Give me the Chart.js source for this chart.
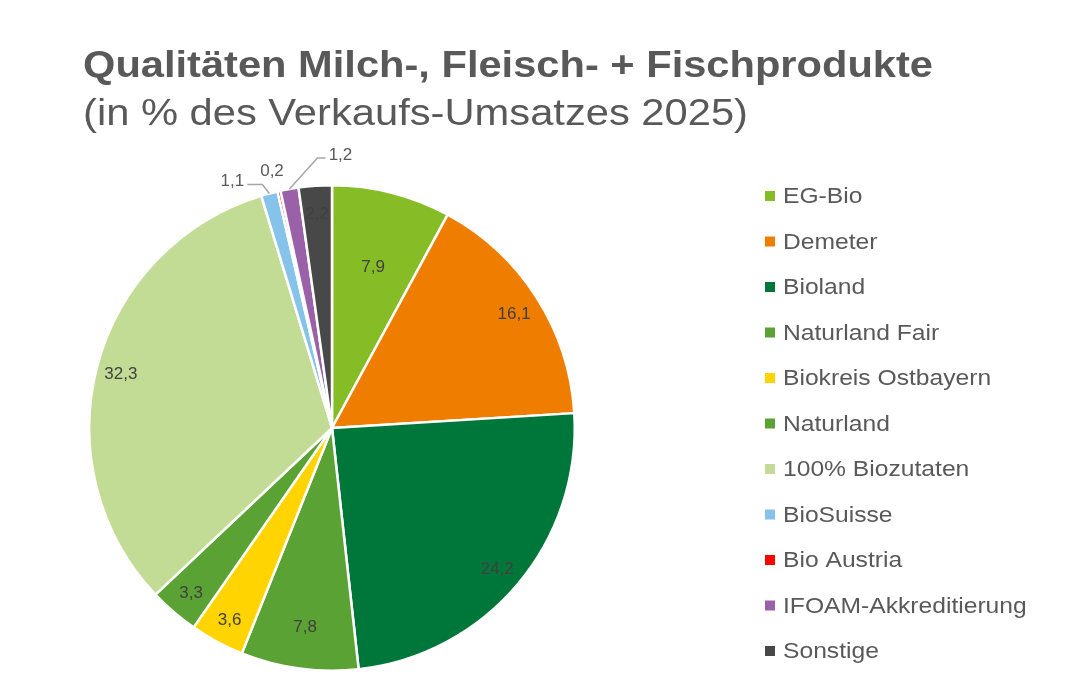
<!DOCTYPE html>
<html>
<head>
<meta charset="utf-8">
<script src="https://cdn.jsdelivr.net/npm/chart.js@4.4.1/dist/chart.umd.min.js"></script>
<style>
html,body{margin:0;padding:0;background:#fff;}
#wrap{width:1092px;height:687px;position:relative;}
</style>
</head>
<body>
<div id="wrap"><canvas id="c"></canvas></div>
<script>
const titleText = "Qualitäten Milch-, Fleisch- + Fischprodukte";
const subtitleText = "(in % des Verkaufs-Umsatzes 2025)";
const categories = ["EG-Bio","Demeter","Bioland","Naturland Fair","Biokreis Ostbayern","Naturland","100% Biozutaten","BioSuisse","Bio Austria","IFOAM-Akkreditierung","Sonstige"];
const shares = [7.9,16.1,24.2,7.8,3.6,3.3,32.3,1.1,0.2,1.2,2.2];
const sliceColors = ["#86BC25","#EE7D00","#00773A","#5AA233","#FFD400","#5AA233","#C3DC95","#86C3EA","#FF0000","#9A60A8","#484848"];

// label placement styling (radial fraction for inside labels; outside labels with offsets)
const insideFactor = {0:0.69, 3:0.82, 6:0.9};
const outsideLabels = {
  7: {dx:-37, dy:-12, elbow:[-7,-9], line:true},
  8: {dx:-7, dy:-20, line:false},
  9: {dx:51, dy:-34, elbow:[28,-31], line:true}
};

const fmt = v => v.toFixed(1).replace('.', ',');

const decorPlugin = {
  id: 'decor',
  afterDraw(chart) {
    const ctx = chart.ctx;
    ctx.save();
    ctx.fillStyle = '#595959';
    ctx.textBaseline = 'alphabetic';
    ctx.textAlign = 'left';
    function fitText(txt, font, x, y, w) {
      ctx.font = font;
      const m = ctx.measureText(txt).width;
      const s = w / m;
      ctx.save();
      ctx.translate(x, y);
      ctx.scale(s, 1);
      ctx.fillText(txt, 0, 0);
      ctx.restore();
    }
    fitText(titleText, 'bold 36px "Liberation Sans", Arial, sans-serif', 83, 77, 850);
    fitText(subtitleText, '36px "Liberation Sans", Arial, sans-serif', 83, 125, 665);

    // Legend
    const ds = chart.data.datasets[0];
    ctx.font = '22px "Liberation Sans", Arial, sans-serif';
    ctx.textBaseline = 'middle';
    chart.data.labels.forEach((lab, i) => {
      const y = 196 + i * 45.5;
      ctx.fillStyle = ds.backgroundColor[i];
      ctx.fillRect(765, y - 5, 10, 10);
      ctx.fillStyle = '#595959';
      ctx.save();
      ctx.translate(783, y + 1);
      ctx.scale(1.12, 1);
      ctx.fillText(lab, 0, 0);
      ctx.restore();
    });

    // Data labels
    const meta = chart.getDatasetMeta(0);
    ctx.font = '17px "Liberation Sans", Arial, sans-serif';
    ctx.textAlign = 'center';
    ctx.textBaseline = 'middle';
    meta.data.forEach((arc, i) => {
      const p = arc.getProps(['x','y','startAngle','endAngle','outerRadius'], true);
      const mid = (p.startAngle + p.endAngle) / 2;
      const txt = fmt(ds.data[i]);
      if (outsideLabels[i]) {
        const o = outsideLabels[i];
        const ex = p.x + p.outerRadius * Math.cos(mid);
        const ey = p.y + p.outerRadius * Math.sin(mid);
        const lx = ex + o.dx, ly = ey + o.dy;
        if (o.line) {
          ctx.strokeStyle = '#A6A6A6';
          ctx.lineWidth = 1.5;
          ctx.beginPath();
          ctx.moveTo(ex, ey);
          const bx = ex + o.elbow[0], by = ey + o.elbow[1];
          ctx.lineTo(bx, by);
          const sign = o.dx < 0 ? -1 : 1;
          ctx.lineTo(lx - sign * 15, by);
          ctx.stroke();
        }
        ctx.fillStyle = '#595959';
        ctx.fillText(txt, lx, ly);
      } else {
        const f = insideFactor[i] !== undefined ? insideFactor[i] : 0.89;
        const r = p.outerRadius * f;
        ctx.fillStyle = '#404040';
        ctx.fillText(txt, p.x + r * Math.cos(mid), p.y + r * Math.sin(mid) + 2);
      }
    });
    ctx.restore();
  }
};

new Chart(document.getElementById('c'), {
  type: 'pie',
  data: {
    labels: categories,
    datasets: [{
      data: shares,
      backgroundColor: sliceColors,
      borderColor: '#ffffff',
      borderWidth: 2.5,
      hoverBorderWidth: 2.5,
      hoverOffset: 0
    }]
  },
  options: {
    responsive: true,
    maintainAspectRatio: false,
    animation: false,
    events: [],
    layout: { padding: { left: 88, right: 516, top: 184, bottom: 15 } },
    plugins: {
      legend: { display: false },
      title: { display: false },
      tooltip: { enabled: false }
    }
  },
  plugins: [decorPlugin]
});
</script>
</body>
</html>
